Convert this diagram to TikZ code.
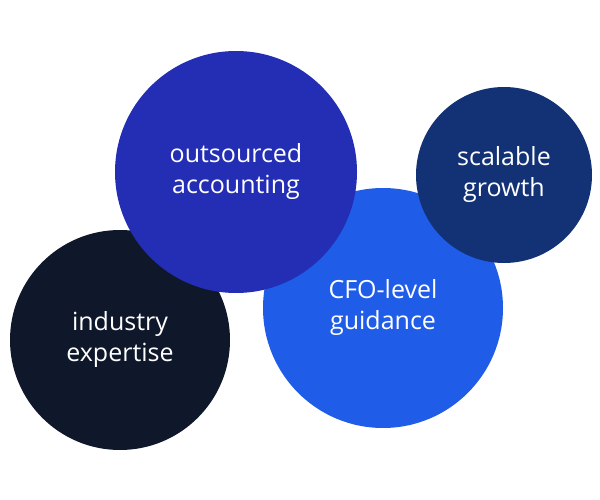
\documentclass[tikz,border=0pt]{standalone}
\usepackage{fontspec}
\setmainfont{Open Sans}
\definecolor{cnavy}{HTML}{0F172A}
\definecolor{cindigo}{HTML}{232EB5}
\definecolor{cblue}{HTML}{1F5DE8}
\definecolor{cdark}{HTML}{133276}
\begin{document}
\begin{tikzpicture}[x=1pt,y=-1pt,
  bub/.style={circle,inner sep=0pt,text=white,align=center,font=\fontsize{25}{31}\selectfont}]
\useasboundingbox (0,0) rectangle (600,500);
\fill[white] (0,0) rectangle (600,500);
\node[bub,fill=cnavy,minimum size=220pt] (ind) at (120,340) {industry\\expertise};
\node[bub,fill=cblue,minimum size=240pt] (cfo) at (383,308) {CFO-level\\guidance};
\node[bub,fill=cindigo,minimum size=242pt] (out) at (236,172) {outsourced\\accounting};
\node[bub,fill=cdark,minimum size=176pt] (sca) at (504,175) {scalable\\growth};
\end{tikzpicture}
\end{document}
